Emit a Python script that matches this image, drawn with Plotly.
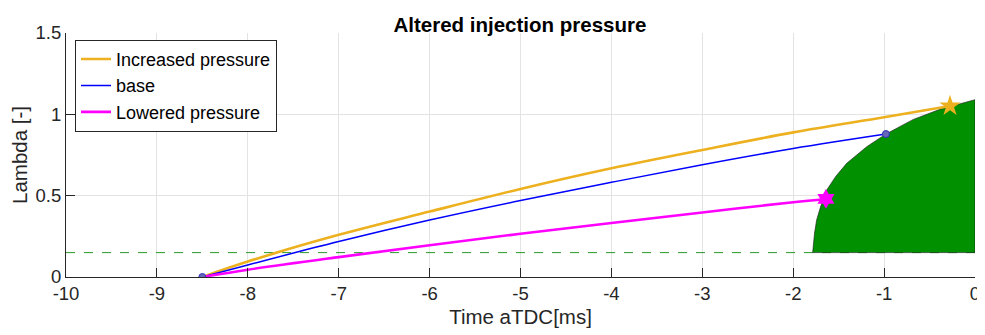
import plotly.graph_objects as go

# ---- data ----
x_inc = [-8.5, -8.0, -7.0, -6.0, -5.0, -4.0, -3.0, -2.0, -1.0, -0.275]
y_inc = [0.0, 0.095, 0.259, 0.402, 0.541, 0.668, 0.781, 0.889, 0.982, 1.051]

x_base = [-8.5, -8.0, -7.0, -6.0, -5.0, -4.0, -3.0, -2.0, -0.98]
y_base = [0.0, 0.074, 0.218, 0.350, 0.470, 0.582, 0.690, 0.790, 0.879]

x_low = [-8.5, -8.0, -7.0, -6.0, -5.0, -4.0, -3.0, -2.0, -1.64]
y_low = [0.0, 0.045, 0.122, 0.195, 0.266, 0.332, 0.397, 0.460, 0.480]

x_region = [-1.786, -1.780, -1.765, -1.742, -1.700, -1.631, -1.530, -1.411, -1.191,
            -0.979, -0.678, -0.385, -0.018, 0.0, 0.0, -1.786]
y_region = [0.15, 0.20, 0.27, 0.351, 0.43, 0.535, 0.62, 0.699, 0.801,
            0.879, 0.969, 1.031, 1.088, 1.09, 0.15, 0.15]

thresh_x = [-10, 0]
thresh_y = [0.15, 0.15]

x_ticks = [-10, -9, -8, -7, -6, -5, -4, -3, -2, -1, 0]
x_ticklabels = ["-10", "-9", "-8", "-7", "-6", "-5", "-4", "-3", "-2", "-1", "0"]
y_ticks = [0, 0.5, 1, 1.5]
y_ticklabels = ["0", "0.5", "1", "1.5"]

ORANGE = "#EDB120"
BLUE = "#0000FF"
MAGENTA = "#FF00FF"
GREEN = "#009000"
FONT = "Liberation Sans, Arial, Helvetica, sans-serif"

fig = go.Figure()

fig.add_trace(go.Scatter(x=thresh_x, y=thresh_y, mode="lines",
                         line=dict(color="#2a9a2a", width=1, dash="dash"),
                         showlegend=False, hoverinfo="skip"))

fig.add_trace(go.Scatter(x=x_region, y=y_region, mode="lines", fill="toself",
                         fillcolor=GREEN, line=dict(color="#1a1a1a", width=0.6),
                         showlegend=False, hoverinfo="skip"))

fig.add_trace(go.Scatter(x=x_inc, y=y_inc, mode="lines", name="Increased pressure",
                         line=dict(color=ORANGE, width=2.6, shape="spline")))
fig.add_trace(go.Scatter(x=x_base, y=y_base, mode="lines", name="base",
                         line=dict(color=BLUE, width=1.5, shape="spline")))
fig.add_trace(go.Scatter(x=x_low, y=y_low, mode="lines", name="Lowered pressure",
                         line=dict(color=MAGENTA, width=2.6, shape="spline")))

# markers
fig.add_trace(go.Scatter(x=[x_inc[-1]], y=[y_inc[-1]], mode="markers", showlegend=False,
                         marker=dict(symbol="star", size=16, color=ORANGE,
                                     line=dict(color=ORANGE, width=0))))
fig.add_trace(go.Scatter(x=[x_low[-1]], y=[y_low[-1]], mode="markers", showlegend=False,
                         marker=dict(symbol="hexagram", size=15, color=MAGENTA,
                                     line=dict(color=MAGENTA, width=0))))
fig.add_trace(go.Scatter(x=[x_base[0], x_base[-1]], y=[y_base[0], y_base[-1]],
                         mode="markers", showlegend=False,
                         marker=dict(symbol="circle", size=7, color="#6868b8",
                                     line=dict(color="#3030c0", width=1))))

axis_font = dict(family=FONT, size=18.5, color="#262626")

# page body has an 8px default margin, so the figure is sized to fit the window
fig.update_layout(
    width=977, height=327,
    margin=dict(l=58, r=10, t=25, b=58, autoexpand=False),
    paper_bgcolor="white", plot_bgcolor="white",
    title=dict(text="<b>Altered injection pressure</b>", x=0.524, xanchor="center",
               y=0.95, yanchor="middle",
               font=dict(family=FONT, size=20.5, color="black")),
    legend=dict(x=0.0099, y=0.972, xanchor="left", yanchor="top",
                bgcolor="white", bordercolor="#262626", borderwidth=1,
                font=dict(family=FONT, size=18, color="black"),
                tracegroupgap=0),
    showlegend=True,
)

fig.update_xaxes(range=[-10, 0], tickvals=x_ticks, ticktext=x_ticklabels, showgrid=True,
                 gridcolor="#e3e3e3", gridwidth=1, zeroline=False, showline=True,
                 linecolor="#262626", linewidth=1, ticks="inside", ticklen=9,
                 tickcolor="#262626", tickfont=axis_font, automargin=False,
                 title=dict(text="Time aTDC[ms]", standoff=6,
                            font=dict(family=FONT, size=20.5, color="#262626")))
fig.update_yaxes(range=[0, 1.5], tickvals=y_ticks, ticktext=y_ticklabels, showgrid=True,
                 gridcolor="#e3e3e3", gridwidth=1, zeroline=False, showline=True,
                 linecolor="#262626", linewidth=1, ticks="inside", ticklen=9,
                 tickcolor="#262626", tickfont=axis_font, automargin=False,
                 title=dict(text="Lambda [-]", standoff=8,
                            font=dict(family=FONT, size=20.5, color="#262626")))

fig.write_html("out.html")
